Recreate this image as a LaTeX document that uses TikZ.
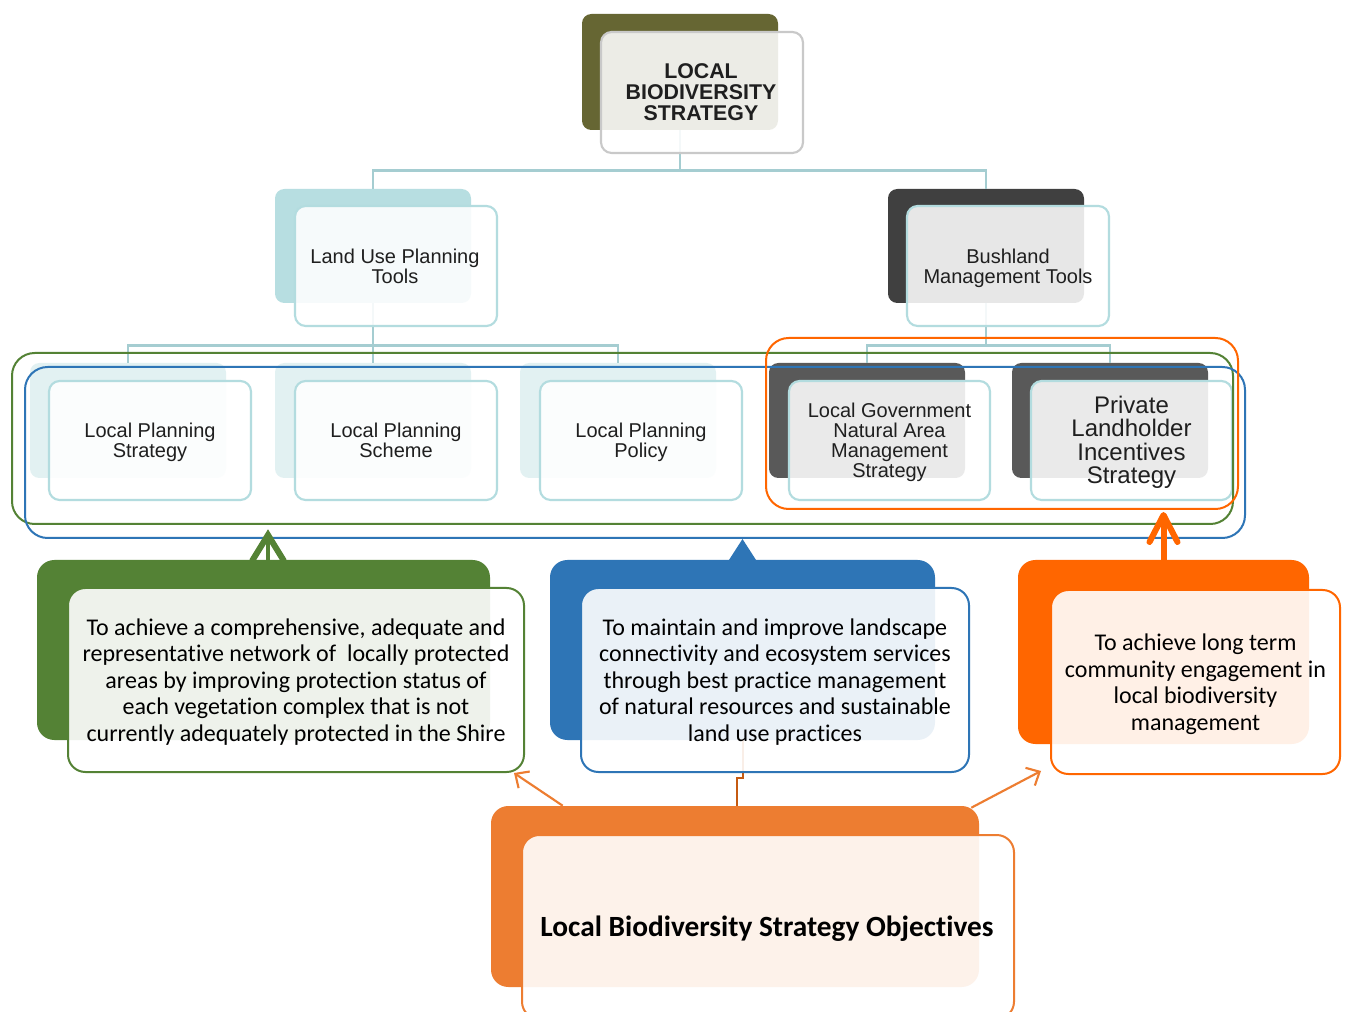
\documentclass[tikz,border=0pt]{standalone}
\usepackage{fontspec}
\setmainfont{Liberation Sans}
\newfontfamily\calfont[Ligatures=NoCommon]{Carlito}
\usetikzlibrary{fit,arrows.meta,calc}
\definecolor{olive}{HTML}{666633}
\definecolor{tline}{HTML}{A5CDD1}
\definecolor{tback}{HTML}{B7DEE1}
\definecolor{tfront}{HTML}{B3DCDF}
\definecolor{vlback}{HTML}{E2F1F2}
\definecolor{dgrayA}{HTML}{404040}
\definecolor{dgrayB}{HTML}{595959}
\definecolor{topline}{HTML}{C9C9C9}
\definecolor{ogreen}{HTML}{548235}
\definecolor{oblue}{HTML}{2E75B6}
\definecolor{oorange}{HTML}{FF6600}
\definecolor{borange}{HTML}{ED7D31}
\definecolor{brownln}{HTML}{C55A11}
\begin{document}
\begin{tikzpicture}[x=0.75pt,y=-0.75pt,
  backbox/.style={inner sep=0pt, rounded corners=7pt, draw=none},
  frontbox/.style={inner sep=0pt, rounded corners=8pt, fill=white, fill opacity=0.88, line width=1.6pt},
  chart/.style={inner sep=0pt, align=center, text=black!88, font=\fontsize{15}{15}\selectfont},
  objback/.style={inner sep=0pt, rounded corners=13pt, draw=none},
  objfront/.style={inner sep=0pt, rounded corners=13pt, fill=white, fill opacity=0.9, line width=1.5pt},
  objtext/.style={inner sep=0pt, align=center, font=\calfont\fontsize{18}{19.9}\selectfont},
  conn/.style={draw=tline, line width=2.2pt},
  outline/.style={inner sep=0pt, rounded corners=17pt, line width=1.5pt, fill=none},
  oarr/.style={draw=borange, line width=1.6pt, -{Straight Barb[length=8pt,width=15pt]}}
]
\path[fill=white,use as bounding box] (0,0) rectangle (1347,1012);

% ---------- back rectangles of the chart ----------
\node[backbox, fill=olive, fit={(582,14)(778,130)}] (topB) {};
\node[backbox, fill=tback, fit={(275,189)(471,303)}] (luB) {};
\node[backbox, fill=dgrayA, fit={(888,189)(1084,303)}] (bmB) {};
\node[backbox, fill=vlback, fit={(30,363)(226,478)}] (lpsB) {};
\node[backbox, fill=vlback, fit={(275,363)(471,478)}] (lpschB) {};
\node[backbox, fill=vlback, fit={(520,363)(716,478)}] (lppB) {};
\node[backbox, fill=dgrayB, fit={(769,363)(965,478)}] (lgB) {};
\node[backbox, fill=dgrayB, fit={(1012,363)(1208,478)}] (plB) {};

% ---------- connectors ----------
\draw[conn] (topB.south) -- ++(0,40) -| (luB.north);
\draw[conn] (topB.south) -- ++(0,40) -| (bmB.north);
\draw[conn] (luB.south) -- ++(0,42) -| (lpsB.north);
\draw[conn] (luB.south) -- ++(0,42) -| (lpschB.north);
\draw[conn] (luB.south) -- ++(0,42) -| (lppB.north);
\draw[conn] (bmB.south) -- ++(0,42) -| (lgB.north);
\draw[conn] (bmB.south) -- ++(0,42) -| (plB.north);

% ---------- front boxes of the chart ----------
\node[frontbox, draw=topline, fit={(601,32)(803,153)}] (topF) {};
\node[frontbox, draw=tfront, fit={(295,206)(497,326)}] (luF) {};
\node[frontbox, draw=tfront, fit={(907,206)(1109,326)}] (bmF) {};
\node[frontbox, draw=tfront, fit={(49,381)(251,500)}] (lpsF) {};
\node[frontbox, draw=tfront, fit={(295,381)(497,500)}] (lpschF) {};
\node[frontbox, draw=tfront, fit={(540,381)(742,500)}] (lppF) {};
\node[frontbox, draw=tfront, fit={(789,381)(990,500)}] (lgF) {};
\node[frontbox, draw=tfront, fit={(1031,381)(1232,500)}] (plF) {};

% ---------- chart texts ----------
\node[chart, font=\bfseries\fontsize{16}{15.8}\selectfont] (topT) at ($(topF.center)+(-1,0)$) {LOCAL\\BIODIVERSITY\\STRATEGY};
\node[chart] (luT) at ($(luF.center)+(-1,0)$) {Land Use Planning\\Tools};
\node[chart] (bmT) at ($(bmF.center)+(0,2)$) {Bushland\\Management Tools};
\node[chart] (lpsT) at ($(lpsF.center)+(0,2)$) {Local Planning\\Strategy};
\node[chart] (lpschT) at ($(lpschF.center)+(0,0)$) {Local Planning\\Scheme};
\node[chart] (lppT) at ($(lppF.center)+(0,2)$) {Local Planning\\Policy};
\node[chart] (lgT) at ($(lgF.center)+(0,2)$) {Local Government\\Natural Area\\Management\\Strategy};
\node[chart, font=\fontsize{18}{17.6}\selectfont] (plT) at ($(plF.center)+(0,2)$) {Private\\Landholder\\Incentives\\Strategy};

% ---------- group outlines ----------
\node[outline, draw=ogreen, fit={(12,353)(1233,524)}] (gline) {};
\node[outline, draw=oblue, fit={(25,367)(1245,538)}] (bline) {};
\node[outline, draw=oorange, fit={(766,338)(1238,509)}] (oline) {};

% ---------- objective boxes (backs) ----------
\node[objback, fill=ogreen, fit={(37,560)(490,740)}] (gB) {};
\node[objback, fill=oblue, fit={(550,560)(935,740)}] (bB) {};
\node[objback, fill=oorange, fit={(1018,560)(1309,744)}] (oB) {};
\node[objback, fill=borange, fit={(491,806)(979,987)}] (botB) {};

% middle elbow connector (behind the blue front box)
\draw[draw=brownln, line width=1.5pt] ($(botB.north west)+(246,0)$) -- ++(0,-28) -| (bB.south);

% ---------- objective boxes (fronts) ----------
\node[objfront, draw=ogreen, fit={(68,588)(524,772)}] (gF) {};
\node[objfront, draw=oblue, fit={(581,588)(969,772)}] (bF) {};
\node[objfront, draw=oorange, fit={(1051,590)(1340,774)}] (oF) {};
\node[objfront, draw=borange, fit={(522,835)(1014,1019)}] (botF) {};

\node[objtext] (gT) at ($(gF.center)+(0,2)$) {To achieve a comprehensive, adequate and\\representative network of\ \ locally protected\\areas by improving protection status of\\each vegetation complex that is not\\currently adequately protected in the Shire};
\node[objtext] (bT) at ($(bF.center)+(0,2)$) {To maintain and improve landscape\\connectivity and ecosystem services\\through best practice management\\of natural resources and sustainable\\land use practices};
\node[objtext] (oT) at ($(oF.center)+(0,2)$) {To achieve long term\\community engagement in\\local biodiversity\\management};
\node[objtext, font=\calfont\bfseries\fontsize{22}{24}\selectfont] (botT) at ($(botF.center)+(-1,2)$) {Local Biodiversity Strategy Objectives};

% ---------- arrows to the outlines ----------
% green: chevron with middle shaft
\coordinate (gtip) at (268,535);
\draw[draw=ogreen, line width=3.2pt] (gB.north -| gtip) -- ($(gtip)+(0,2)$);
\draw[draw=ogreen, line width=4.5pt, line join=miter] ($(gtip)+(-16,26)$) -- (gtip) -- ($(gtip)+(16,26)$);
% blue: filled triangle
\fill[oblue] ($(bB.north)+(-14,1)$) -- (bB.north |- bline.south) -- ($(bB.north)+(14,1)$) -- cycle;
% orange: thick shaft with round chevron head
\draw[draw=oorange, line width=4.5pt] (oB.north) -- ($(oB.north |- oline.south)+(0,5)$);
\draw[draw=oorange, line width=4.5pt, line cap=round, line join=round] ($(oB.north |- oline.south)+(-14,32)$) -- ($(oB.north |- oline.south)+(0,5)$) -- ($(oB.north |- oline.south)+(14,32)$);

% ---------- arrows from the bottom box ----------
\draw[oarr] ($(botB.north west)+(72,0)$) -- ($(gF.south east)+(-11,0)$);
\draw[oarr] ($(botB.north east)+(-8,2)$) -- ($(oF.south west)+(-9,-4)$);
\end{tikzpicture}
\end{document}
